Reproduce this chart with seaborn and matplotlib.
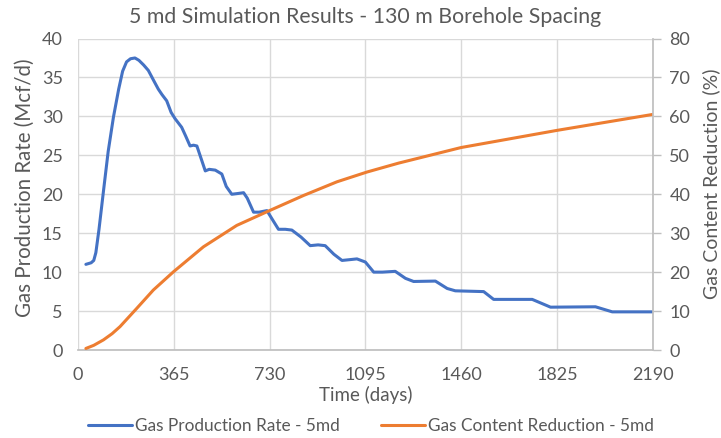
import pandas as pd
import numpy as np
import seaborn as sns
import matplotlib.pyplot as plt

# Datos
dias_gas = [30, 50, 60, 68, 80, 97, 115, 135, 155, 170, 185, 200, 217, 232, 250, 268,
            290, 306, 320, 338, 355, 370, 395, 410, 427, 440, 453, 470, 485, 500, 523,
            548, 565, 586, 610, 631, 645, 669, 690, 720, 740, 764, 790, 815, 850, 885,
            915, 942, 975, 1006, 1035, 1063, 1095, 1127, 1160, 1209, 1248, 1279, 1362,
            1407, 1438, 1546, 1584, 1731, 1801, 1972, 2036, 2190]
tasa_gas = [11.0, 11.2, 11.5, 12.5, 15.5, 20.4, 25.5, 29.9, 33.5, 35.8, 37.0, 37.4,
            37.5, 37.2, 36.6, 35.9, 34.5, 33.5, 32.8, 32.0, 30.5, 29.7, 28.6, 27.5,
            26.2, 26.3, 26.2, 24.5, 23.0, 23.2, 23.1, 22.6, 21.0, 20.0, 20.1, 20.2,
            19.5, 17.7, 17.7, 17.9, 16.8, 15.5, 15.5, 15.4, 14.5, 13.4, 13.5, 13.4,
            12.3, 11.5, 11.6, 11.7, 11.3, 10.0, 10.0, 10.1, 9.2, 8.8, 8.85, 7.9, 7.6,
            7.5, 6.5, 6.5, 5.5, 5.55, 4.9, 4.9]

dias_cont = [30, 60, 97, 130, 160, 224, 287, 364, 478, 605, 733, 860, 987, 1101,
             1222, 1460, 1825, 2190]
reduccion = [0.4, 1.2, 2.6, 4.2, 6.0, 10.7, 15.4, 20.1, 26.5, 32.0, 35.9, 39.7,
             43.2, 45.7, 48.0, 52.0, 56.4, 60.5]

ticks_x = [0, 365, 730, 1095, 1460, 1825, 2190]

df_gas = pd.DataFrame({"dias": dias_gas, "tasa": tasa_gas})
df_cont = pd.DataFrame({"dias": dias_cont, "red": reduccion})

sns.set_theme(style="white")
plt.rcParams['font.family'] = ['Lato', 'DejaVu Sans']

gris = "#595959"
azul = "#4472C4"
naranja = "#ED7D31"

fig = plt.figure(figsize=(7.21, 4.38), dpi=100)
ax = fig.add_axes([0.1082, 0.2009, 0.797, 0.7112])
ax2 = ax.twinx()

sns.lineplot(data=df_gas, x="dias", y="tasa", ax=ax, color=azul, linewidth=2.2,
             label="Gas Production Rate - 5md", legend=False)
sns.lineplot(data=df_cont, x="dias", y="red", ax=ax2, color=naranja, linewidth=2.2,
             label="Gas Content Reduction - 5md", legend=False)

ax.set_xlim(0, 2190)
ax.set_ylim(0, 40)
ax2.set_ylim(0, 80)
ax.set_xticks(ticks_x)
ax.set_yticks(range(0, 41, 5))
ax2.set_yticks(range(0, 81, 10))

ax.grid(True, color="#d9d9d9", linewidth=1)
ax.set_axisbelow(True)

for a in (ax, ax2):
    for s in a.spines.values():
        s.set_visible(False)
ax.spines["bottom"].set_visible(True)
ax.spines["bottom"].set_color("#bfbfbf")
ax2.spines["right"].set_visible(True)
ax2.spines["right"].set_color("#bfbfbf")

ax.tick_params(axis="x", colors=gris, labelsize=13, length=0, pad=12)
ax.tick_params(axis="y", colors=gris, labelsize=13, length=0, pad=11)
ax2.tick_params(axis="y", colors=gris, labelsize=13, length=6, width=1, pad=6)
ax2.tick_params(axis="y", color="#bfbfbf")

ax.set_xlabel("Time (days)", color=gris, fontsize=13.5, labelpad=2)
ax.set_ylabel("Gas Production Rate (Mcf/d)", color=gris, fontsize=14.8, labelpad=5)
ax2.set_ylabel("Gas Content Reduction (%)", color=gris, fontsize=14, labelpad=9)
ax.yaxis.label.set_y(0.52)
ax2.yaxis.label.set_y(0.535)
ax.set_title("5 md Simulation Results - 130 m Borehole Spacing", color=gris,
             fontsize=15.3, pad=11)

h1, l1 = ax.get_legend_handles_labels()
h2, l2 = ax2.get_legend_handles_labels()
fig.legend(h1 + h2, l1 + l2, loc="center", bbox_to_anchor=(0.515, 0.027), ncol=2,
           frameon=False, fontsize=12.4, labelcolor=gris, handlelength=2.55,
           columnspacing=2.4, handletextpad=0.17)

plt.savefig("out.png", dpi=100)
